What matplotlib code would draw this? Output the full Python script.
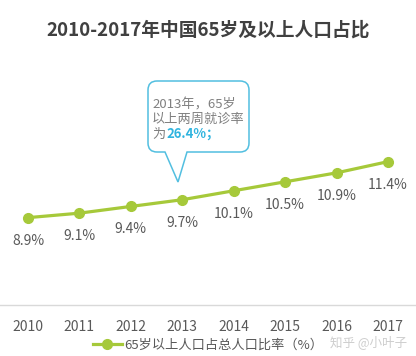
import numpy as np
import matplotlib
matplotlib.use('Agg')
import matplotlib.pyplot as plt
from matplotlib.path import Path
from matplotlib.patches import PathPatch

plt.rcParams['font.family'] = ['Noto Sans CJK SC', 'DejaVu Sans']

years = ['2010', '2011', '2012', '2013', '2014', '2015', '2016', '2017']
ratio = [8.9, 9.1, 9.4, 9.7, 10.1, 10.5, 10.9, 11.4]
labels = ['8.9%', '9.1%', '9.4%', '9.7%', '10.1%', '10.5%', '10.9%', '11.4%']

title = '2010-2017年中国65岁及以上人口占比'
series_name = '65岁以上人口占总人口比率（%）'
note_lines = ['2013年，65岁', '以上两周就诊率', '为']
note_value = '26.4%；'

W, H = 416, 356
green = '#a6c93a'
grey = '#595959'
blue = '#52bfe0'

fig = plt.figure(figsize=(W / 100, H / 100), dpi=100)
ax = fig.add_axes([0, (H - 305) / H, 1, (305 - 58.6) / H])

x = np.arange(len(years))
ax.plot(x, ratio, color=green, lw=2.3, marker='o', ms=7, label=series_name)
for xi, v, s in zip(x, ratio, labels):
    ax.annotate(s, (xi, v), xytext=(0, -16.5), textcoords='offset points',
                ha='center', va='center', fontsize=10, color=grey)

ax.set_xlim(-0.544, 7.544)
ax.set_ylim(5.0, 16.0)
ax.set_xticks(x)
ax.set_xticklabels(years, fontsize=10, color=grey)
ax.tick_params(axis='x', length=0, pad=11)
ax.set_yticks([])
for sp in ['top', 'left', 'right']:
    ax.spines[sp].set_visible(False)
ax.spines['bottom'].set_color('#d9d9d9')
ax.spines['bottom'].set_linewidth(1)

fig.text(0.5, 1 - 30 / H, title, ha='center', va='center',
         fontsize=13.5, fontweight='bold', color='#404040')

leg = fig.legend(loc='center', bbox_to_anchor=(0.5, 1 - 345 / H), frameon=False,
                 fontsize=9.5, handlelength=2.2, handletextpad=0.2)
for t in leg.get_texts():
    t.set_color(grey)

# watermark, nudged a little lower so it doesn't sit on the tick labels
fig.text(407 / W, 1 - 342 / H, '知乎 @小叶子', ha='right', va='center',
         fontsize=9, color='#c8c8c8', alpha=0.9)

# callout bubble (pixel coords, y downward)
def fp(px, py):
    return (px / W, 1 - py / H)

l, r, t, b, rad = 148, 249, 81, 152, 9
pts = [
    ((l + rad, t), Path.MOVETO),
    ((r - rad, t), Path.LINETO),
    ((r, t), Path.CURVE3), ((r, t + rad), Path.CURVE3),
    ((r, b - rad), Path.LINETO),
    ((r, b), Path.CURVE3), ((r - rad, b), Path.CURVE3),
    ((187, b), Path.LINETO),
    ((178, 182), Path.LINETO),
    ((165, b), Path.LINETO),
    ((l + rad, b), Path.LINETO),
    ((l, b), Path.CURVE3), ((l, b - rad), Path.CURVE3),
    ((l, t + rad), Path.LINETO),
    ((l, t), Path.CURVE3), ((l + rad, t), Path.CURVE3),
    ((l + rad, t), Path.CLOSEPOLY),
]
verts = [fp(*p) for p, _ in pts]
codes = [c for _, c in pts]
bubble = PathPatch(Path(verts, codes), facecolor='white', edgecolor=blue,
                   lw=1.1, transform=fig.transFigure, zorder=5)
fig.add_artist(bubble)

for i, line in enumerate(note_lines):
    fig.text(152 / W, 1 - (105 + 14.5 * i) / H, line, ha='left', va='center',
             fontsize=9.5, color='#808080', zorder=6)
fig.text(166 / W, 1 - 134 / H, note_value, ha='left', va='center',
         fontsize=9.5, fontweight='bold', color='#2fb4df', zorder=6)

fig.savefig('out.png', dpi=100)
